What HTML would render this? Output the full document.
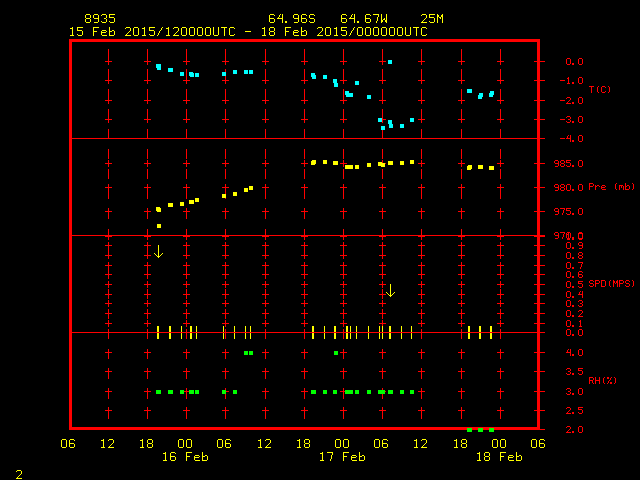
<!DOCTYPE html>
<html><head><meta charset="utf-8"><title>SFGRAM</title>
<style>
html,body{margin:0;padding:0;background:#000;width:640px;height:480px;overflow:hidden;font-family:"Liberation Mono",monospace;}
svg{display:block;}
</style></head><body>
<svg width="640" height="480" viewBox="0 0 640 480" shape-rendering="crispEdges">
<rect width="640" height="480" fill="#000"/>
<path fill="#ff0000" d="M69 39h471v3h-471zM69 42h3v96h-3zM537 42h3v19h-3zM108 49h1v12h-1zM147 49h1v12h-1zM186 49h1v12h-1zM225 49h1v12h-1zM265 49h1v12h-1zM304 49h1v12h-1zM343 49h1v12h-1zM382 49h1v12h-1zM421 49h1v12h-1zM461 49h1v12h-1zM500 49h1v12h-1zM567 58h3v1h-3zM579 58h3v1h-3zM566 59h1v5h-1zM570 59h1v5h-1zM578 59h1v5h-1zM582 59h1v5h-1zM105 61h7v1h-7zM144 61h7v1h-7zM183 61h7v1h-7zM222 61h7v1h-7zM262 61h7v1h-7zM301 61h7v1h-7zM340 61h7v1h-7zM379 61h7v1h-7zM418 61h7v1h-7zM458 61h7v1h-7zM497 61h7v1h-7zM534 61h11v1h-11zM108 62h1v3h-1zM147 62h1v3h-1zM186 62h1v3h-1zM225 62h1v3h-1zM265 62h1v3h-1zM304 62h1v3h-1zM343 62h1v3h-1zM382 62h1v3h-1zM421 62h1v3h-1zM461 62h1v3h-1zM500 62h1v3h-1zM537 62h3v18h-3zM572 63h2v2h-2zM567 64h3v1h-3zM579 64h3v1h-3zM108 69h1v11h-1zM147 69h1v11h-1zM186 69h1v11h-1zM225 69h1v3h-1zM265 69h1v11h-1zM304 69h1v11h-1zM343 69h1v11h-1zM382 69h1v11h-1zM421 69h1v11h-1zM461 69h1v11h-1zM500 69h1v11h-1zM225 76h1v4h-1zM568 77h1v1h-1zM579 77h3v1h-3zM567 78h2v1h-2zM578 78h1v5h-1zM582 78h1v5h-1zM568 79h1v4h-1zM105 80h7v1h-7zM144 80h7v1h-7zM183 80h7v1h-7zM222 80h7v1h-7zM262 80h7v1h-7zM301 80h7v1h-7zM340 80h7v1h-7zM379 80h7v1h-7zM418 80h7v1h-7zM458 80h7v1h-7zM497 80h7v1h-7zM534 80h11v1h-11zM560 80h5v1h-5zM108 81h1v3h-1zM147 81h1v3h-1zM186 81h1v3h-1zM225 81h1v3h-1zM265 81h1v3h-1zM304 81h1v3h-1zM343 81h1v3h-1zM382 81h1v3h-1zM421 81h1v3h-1zM461 81h1v3h-1zM500 81h1v3h-1zM537 81h3v19h-3zM572 82h2v2h-2zM567 83h3v1h-3zM579 83h3v1h-3zM589 86h5v1h-5zM598 86h1v1h-1zM602 86h3v1h-3zM608 86h1v1h-1zM591 87h1v6h-1zM597 87h1v5h-1zM601 87h1v5h-1zM605 87h1v1h-1zM609 87h1v5h-1zM108 89h1v11h-1zM147 89h1v11h-1zM186 89h1v11h-1zM225 89h1v11h-1zM265 89h1v11h-1zM304 89h1v11h-1zM343 89h1v11h-1zM382 89h1v11h-1zM421 89h1v11h-1zM461 89h1v11h-1zM500 89h1v11h-1zM605 91h1v1h-1zM598 92h1v1h-1zM602 92h3v1h-3zM608 92h1v1h-1zM567 97h3v1h-3zM579 97h3v1h-3zM566 98h1v1h-1zM570 98h1v2h-1zM578 98h1v5h-1zM582 98h1v5h-1zM105 100h7v1h-7zM144 100h7v1h-7zM183 100h7v1h-7zM222 100h7v1h-7zM262 100h7v1h-7zM301 100h7v1h-7zM340 100h7v1h-7zM379 100h7v1h-7zM418 100h7v1h-7zM458 100h7v1h-7zM497 100h7v1h-7zM534 100h11v1h-11zM560 100h5v1h-5zM569 100h1v1h-1zM108 101h1v3h-1zM147 101h1v3h-1zM186 101h1v3h-1zM225 101h1v3h-1zM265 101h1v3h-1zM304 101h1v3h-1zM343 101h1v3h-1zM382 101h1v3h-1zM421 101h1v3h-1zM461 101h1v3h-1zM500 101h1v3h-1zM537 101h3v18h-3zM568 101h1v1h-1zM567 102h1v1h-1zM572 102h2v2h-2zM566 103h5v1h-5zM579 103h3v1h-3zM108 109h1v10h-1zM147 109h1v10h-1zM186 109h1v10h-1zM225 109h1v10h-1zM265 109h1v10h-1zM304 109h1v10h-1zM343 109h1v10h-1zM382 109h1v10h-1zM421 109h1v10h-1zM461 109h1v10h-1zM500 109h1v10h-1zM567 116h3v1h-3zM579 116h3v1h-3zM566 117h1v1h-1zM570 117h1v2h-1zM578 117h1v5h-1zM582 117h1v5h-1zM105 119h7v1h-7zM144 119h7v1h-7zM183 119h7v1h-7zM222 119h7v1h-7zM262 119h7v1h-7zM301 119h7v1h-7zM340 119h7v1h-7zM382 119h4v1h-4zM418 119h7v1h-7zM458 119h7v1h-7zM497 119h7v1h-7zM534 119h11v1h-11zM560 119h5v1h-5zM568 119h2v1h-2zM108 120h1v3h-1zM147 120h1v3h-1zM186 120h1v3h-1zM225 120h1v3h-1zM265 120h1v3h-1zM304 120h1v3h-1zM343 120h1v3h-1zM382 120h1v3h-1zM421 120h1v3h-1zM461 120h1v3h-1zM500 120h1v3h-1zM537 120h3v18h-3zM570 120h1v2h-1zM566 121h1v1h-1zM572 121h2v2h-2zM567 122h3v1h-3zM579 122h3v1h-3zM108 129h1v9h-1zM147 129h1v9h-1zM186 129h1v9h-1zM225 129h1v9h-1zM265 129h1v9h-1zM304 129h1v9h-1zM343 129h1v9h-1zM421 129h1v9h-1zM461 129h1v9h-1zM500 129h1v9h-1zM382 130h1v8h-1zM568 135h1v1h-1zM570 135h1v3h-1zM579 135h3v1h-3zM567 136h1v2h-1zM578 136h1v5h-1zM582 136h1v5h-1zM69 138h476v1h-476zM560 138h5v1h-5zM566 138h5v1h-5zM69 139h3v96h-3zM537 139h3v24h-3zM570 139h1v3h-1zM572 140h2v2h-2zM579 141h3v1h-3zM108 149h1v10h-1zM147 149h1v10h-1zM186 149h1v10h-1zM225 149h1v10h-1zM265 149h1v10h-1zM304 149h1v10h-1zM343 149h1v10h-1zM382 149h1v10h-1zM421 149h1v10h-1zM461 149h1v10h-1zM500 149h1v10h-1zM108 160h1v3h-1zM147 160h1v3h-1zM186 160h1v3h-1zM225 160h1v3h-1zM265 160h1v3h-1zM304 160h1v3h-1zM343 160h1v3h-1zM382 160h1v3h-1zM421 160h1v3h-1zM461 160h1v3h-1zM500 160h1v3h-1zM555 160h3v1h-3zM561 160h3v1h-3zM566 160h5v1h-5zM579 160h3v1h-3zM554 161h1v2h-1zM558 161h1v2h-1zM560 161h1v2h-1zM564 161h1v2h-1zM566 161h1v1h-1zM578 161h1v5h-1zM582 161h1v5h-1zM566 162h4v1h-4zM105 163h7v1h-7zM144 163h7v1h-7zM183 163h7v1h-7zM222 163h7v1h-7zM262 163h7v1h-7zM301 163h7v1h-7zM340 163h7v1h-7zM385 163h1v1h-1zM418 163h7v1h-7zM458 163h7v1h-7zM497 163h7v1h-7zM534 163h11v1h-11zM555 163h4v1h-4zM561 163h3v1h-3zM570 163h1v3h-1zM108 164h1v3h-1zM147 164h1v3h-1zM186 164h1v3h-1zM225 164h1v3h-1zM265 164h1v3h-1zM304 164h1v3h-1zM343 164h1v3h-1zM421 164h1v3h-1zM461 164h1v3h-1zM500 164h1v3h-1zM537 164h3v23h-3zM558 164h1v2h-1zM560 164h1v2h-1zM564 164h1v2h-1zM566 165h1v1h-1zM572 165h2v2h-2zM555 166h3v1h-3zM561 166h3v1h-3zM567 166h3v1h-3zM579 166h3v1h-3zM108 169h1v10h-1zM147 169h1v10h-1zM186 169h1v10h-1zM225 169h1v10h-1zM265 169h1v10h-1zM304 169h1v10h-1zM343 169h1v10h-1zM382 169h1v10h-1zM421 169h1v10h-1zM461 169h1v10h-1zM500 169h1v10h-1zM589 183h4v1h-4zM616 183h1v1h-1zM625 183h1v3h-1zM632 183h1v1h-1zM108 184h1v3h-1zM147 184h1v3h-1zM186 184h1v3h-1zM225 184h1v3h-1zM265 184h1v3h-1zM304 184h1v3h-1zM343 184h1v3h-1zM382 184h1v3h-1zM421 184h1v3h-1zM461 184h1v3h-1zM500 184h1v3h-1zM555 184h3v1h-3zM561 184h3v1h-3zM567 184h3v1h-3zM579 184h3v1h-3zM589 184h1v2h-1zM593 184h1v2h-1zM615 184h1v5h-1zM633 184h1v5h-1zM554 185h1v2h-1zM558 185h1v2h-1zM560 185h1v2h-1zM564 185h1v2h-1zM566 185h1v5h-1zM570 185h1v5h-1zM578 185h1v5h-1zM582 185h1v5h-1zM595 185h1v1h-1zM597 185h2v1h-2zM602 185h3v1h-3zM619 185h4v1h-4zM627 185h2v1h-2zM589 186h4v1h-4zM595 186h2v1h-2zM599 186h1v1h-1zM601 186h1v1h-1zM605 186h1v1h-1zM619 186h1v4h-1zM621 186h1v2h-1zM623 186h1v4h-1zM625 186h2v1h-2zM629 186h1v3h-1zM105 187h7v1h-7zM144 187h7v1h-7zM183 187h7v1h-7zM222 187h7v1h-7zM262 187h7v1h-7zM301 187h7v1h-7zM340 187h7v1h-7zM379 187h7v1h-7zM418 187h7v1h-7zM458 187h7v1h-7zM497 187h7v1h-7zM534 187h11v1h-11zM555 187h4v1h-4zM561 187h3v1h-3zM589 187h1v3h-1zM595 187h1v3h-1zM601 187h4v1h-4zM625 187h1v2h-1zM108 188h1v11h-1zM147 188h1v11h-1zM186 188h1v11h-1zM225 188h1v6h-1zM265 188h1v11h-1zM304 188h1v11h-1zM343 188h1v11h-1zM382 188h1v11h-1zM421 188h1v11h-1zM461 188h1v11h-1zM500 188h1v11h-1zM537 188h3v23h-3zM558 188h1v2h-1zM560 188h1v2h-1zM564 188h1v2h-1zM601 188h1v1h-1zM572 189h2v2h-2zM602 189h4v1h-4zM616 189h1v1h-1zM625 189h4v1h-4zM632 189h1v1h-1zM555 190h3v1h-3zM561 190h3v1h-3zM567 190h3v1h-3zM579 190h3v1h-3zM225 198h1v1h-1zM108 208h1v3h-1zM147 208h1v3h-1zM186 208h1v3h-1zM225 208h1v3h-1zM265 208h1v3h-1zM304 208h1v3h-1zM343 208h1v3h-1zM382 208h1v3h-1zM421 208h1v3h-1zM461 208h1v3h-1zM500 208h1v3h-1zM555 208h3v1h-3zM560 208h5v1h-5zM566 208h5v1h-5zM579 208h3v1h-3zM554 209h1v2h-1zM558 209h1v2h-1zM564 209h1v1h-1zM566 209h1v1h-1zM578 209h1v5h-1zM582 209h1v5h-1zM563 210h1v3h-1zM566 210h4v1h-4zM105 211h7v1h-7zM144 211h7v1h-7zM183 211h7v1h-7zM222 211h7v1h-7zM262 211h7v1h-7zM301 211h7v1h-7zM340 211h7v1h-7zM379 211h7v1h-7zM418 211h7v1h-7zM458 211h7v1h-7zM497 211h7v1h-7zM534 211h11v1h-11zM555 211h4v1h-4zM570 211h1v3h-1zM108 212h1v7h-1zM147 212h1v7h-1zM186 212h1v7h-1zM225 212h1v7h-1zM265 212h1v7h-1zM304 212h1v7h-1zM343 212h1v7h-1zM382 212h1v7h-1zM421 212h1v7h-1zM461 212h1v7h-1zM500 212h1v7h-1zM537 212h3v23h-3zM558 212h1v2h-1zM562 213h1v2h-1zM566 213h1v1h-1zM572 213h2v2h-2zM555 214h3v1h-3zM567 214h3v1h-3zM579 214h3v1h-3zM108 229h1v6h-1zM147 229h1v6h-1zM186 229h1v6h-1zM225 229h1v6h-1zM265 229h1v6h-1zM304 229h1v6h-1zM343 229h1v6h-1zM382 229h1v6h-1zM421 229h1v6h-1zM461 229h1v6h-1zM500 229h1v6h-1zM555 232h3v1h-3zM560 232h5v1h-5zM567 232h3v1h-3zM579 232h3v1h-3zM554 233h1v2h-1zM558 233h1v2h-1zM564 233h1v1h-1zM566 233h1v1h-1zM568 233h1v1h-1zM570 233h1v5h-1zM578 233h5v1h-5zM563 234h1v3h-1zM566 234h3v1h-3zM578 234h1v4h-1zM582 234h1v4h-1zM69 235h476v1h-476zM555 235h4v1h-4zM566 235h1v3h-1zM568 235h1v3h-1zM69 236h3v96h-3zM105 236h7v1h-7zM144 236h7v1h-7zM183 236h7v1h-7zM222 236h7v1h-7zM262 236h7v1h-7zM301 236h7v1h-7zM340 236h7v1h-7zM379 236h7v1h-7zM418 236h7v1h-7zM458 236h7v1h-7zM497 236h7v1h-7zM534 236h11v1h-11zM558 236h1v2h-1zM108 237h1v3h-1zM147 237h1v3h-1zM186 237h1v3h-1zM225 237h1v3h-1zM265 237h1v3h-1zM304 237h1v3h-1zM343 237h1v3h-1zM382 237h1v3h-1zM421 237h1v3h-1zM461 237h1v3h-1zM500 237h1v3h-1zM537 237h3v8h-3zM562 237h1v2h-1zM572 237h2v3h-2zM555 238h3v1h-3zM567 238h3v2h-3zM578 238h5v1h-5zM579 239h3v1h-3zM108 242h1v3h-1zM147 242h1v3h-1zM186 242h1v3h-1zM225 242h1v3h-1zM265 242h1v3h-1zM304 242h1v3h-1zM343 242h1v3h-1zM382 242h1v3h-1zM421 242h1v3h-1zM461 242h1v3h-1zM500 242h1v3h-1zM567 242h3v1h-3zM579 242h3v1h-3zM566 243h1v5h-1zM570 243h1v5h-1zM578 243h1v2h-1zM582 243h1v2h-1zM105 245h7v1h-7zM144 245h7v1h-7zM183 245h7v1h-7zM222 245h7v1h-7zM262 245h7v1h-7zM301 245h7v1h-7zM340 245h7v1h-7zM379 245h7v1h-7zM418 245h7v1h-7zM458 245h7v1h-7zM497 245h7v1h-7zM534 245h11v1h-11zM579 245h4v1h-4zM108 246h1v9h-1zM147 246h1v9h-1zM186 246h1v9h-1zM225 246h1v9h-1zM265 246h1v9h-1zM304 246h1v9h-1zM343 246h1v9h-1zM382 246h1v9h-1zM421 246h1v9h-1zM461 246h1v9h-1zM500 246h1v9h-1zM537 246h3v9h-3zM582 246h1v2h-1zM572 247h2v2h-2zM567 248h3v1h-3zM579 248h3v1h-3zM567 252h3v1h-3zM579 252h3v1h-3zM566 253h1v5h-1zM570 253h1v5h-1zM578 253h1v2h-1zM582 253h1v2h-1zM105 255h7v1h-7zM144 255h7v1h-7zM183 255h7v1h-7zM222 255h7v1h-7zM262 255h7v1h-7zM301 255h7v1h-7zM340 255h7v1h-7zM379 255h7v1h-7zM418 255h7v1h-7zM458 255h7v1h-7zM497 255h7v1h-7zM534 255h11v1h-11zM579 255h3v1h-3zM108 256h1v3h-1zM147 256h1v3h-1zM186 256h1v3h-1zM225 256h1v3h-1zM265 256h1v3h-1zM304 256h1v3h-1zM343 256h1v3h-1zM382 256h1v3h-1zM421 256h1v3h-1zM461 256h1v3h-1zM500 256h1v3h-1zM537 256h3v9h-3zM578 256h1v2h-1zM582 256h1v2h-1zM572 257h2v2h-2zM567 258h3v1h-3zM579 258h3v1h-3zM108 262h1v3h-1zM147 262h1v3h-1zM186 262h1v3h-1zM225 262h1v3h-1zM265 262h1v3h-1zM304 262h1v3h-1zM343 262h1v3h-1zM382 262h1v3h-1zM421 262h1v3h-1zM461 262h1v3h-1zM500 262h1v3h-1zM567 262h3v1h-3zM578 262h5v1h-5zM566 263h1v5h-1zM570 263h1v5h-1zM582 263h1v1h-1zM581 264h1v3h-1zM105 265h7v1h-7zM144 265h7v1h-7zM183 265h7v1h-7zM222 265h7v1h-7zM262 265h7v1h-7zM301 265h7v1h-7zM340 265h7v1h-7zM379 265h7v1h-7zM418 265h7v1h-7zM458 265h7v1h-7zM497 265h7v1h-7zM534 265h11v1h-11zM108 266h1v8h-1zM147 266h1v8h-1zM186 266h1v8h-1zM225 266h1v8h-1zM265 266h1v8h-1zM304 266h1v8h-1zM343 266h1v8h-1zM382 266h1v8h-1zM421 266h1v8h-1zM461 266h1v8h-1zM500 266h1v8h-1zM537 266h3v8h-3zM572 267h2v2h-2zM580 267h1v2h-1zM567 268h3v1h-3zM567 271h3v1h-3zM579 271h3v1h-3zM566 272h1v5h-1zM570 272h1v5h-1zM578 272h1v2h-1zM582 272h1v1h-1zM105 274h7v1h-7zM144 274h7v1h-7zM183 274h7v1h-7zM222 274h7v1h-7zM262 274h7v1h-7zM301 274h7v1h-7zM340 274h7v1h-7zM379 274h7v1h-7zM418 274h7v1h-7zM458 274h7v1h-7zM497 274h7v1h-7zM534 274h11v1h-11zM578 274h4v1h-4zM108 275h1v4h-1zM147 275h1v4h-1zM186 275h1v4h-1zM225 275h1v4h-1zM265 275h1v4h-1zM304 275h1v4h-1zM343 275h1v4h-1zM382 275h1v4h-1zM421 275h1v4h-1zM461 275h1v4h-1zM500 275h1v4h-1zM537 275h3v9h-3zM578 275h1v2h-1zM582 275h1v2h-1zM572 276h2v2h-2zM567 277h3v1h-3zM579 277h3v1h-3zM590 280h3v1h-3zM595 280h4v1h-4zM601 280h4v1h-4zM610 280h1v1h-1zM613 280h1v1h-1zM617 280h1v1h-1zM619 280h4v1h-4zM626 280h3v1h-3zM632 280h1v1h-1zM108 281h1v3h-1zM147 281h1v3h-1zM186 281h1v3h-1zM225 281h1v3h-1zM265 281h1v3h-1zM304 281h1v3h-1zM343 281h1v3h-1zM382 281h1v3h-1zM421 281h1v3h-1zM461 281h1v3h-1zM500 281h1v3h-1zM567 281h3v1h-3zM578 281h5v1h-5zM589 281h1v2h-1zM593 281h1v1h-1zM595 281h1v2h-1zM599 281h1v2h-1zM601 281h1v5h-1zM605 281h1v5h-1zM609 281h1v5h-1zM613 281h2v2h-2zM616 281h2v2h-2zM619 281h1v2h-1zM623 281h1v2h-1zM625 281h1v2h-1zM629 281h1v1h-1zM633 281h1v5h-1zM566 282h1v5h-1zM570 282h1v5h-1zM578 282h1v1h-1zM578 283h4v1h-4zM590 283h3v1h-3zM595 283h4v1h-4zM613 283h1v4h-1zM615 283h1v1h-1zM617 283h1v4h-1zM619 283h4v1h-4zM626 283h3v1h-3zM105 284h7v1h-7zM144 284h7v1h-7zM183 284h7v1h-7zM222 284h7v1h-7zM262 284h7v1h-7zM301 284h7v1h-7zM340 284h7v1h-7zM379 284h7v1h-7zM418 284h7v1h-7zM458 284h7v1h-7zM497 284h7v1h-7zM534 284h11v1h-11zM582 284h1v3h-1zM593 284h1v2h-1zM595 284h1v3h-1zM619 284h1v3h-1zM629 284h1v2h-1zM108 285h1v3h-1zM147 285h1v3h-1zM186 285h1v3h-1zM225 285h1v3h-1zM265 285h1v3h-1zM304 285h1v3h-1zM343 285h1v3h-1zM382 285h1v3h-1zM421 285h1v3h-1zM461 285h1v3h-1zM500 285h1v3h-1zM537 285h3v9h-3zM589 285h1v1h-1zM625 285h1v1h-1zM572 286h2v2h-2zM578 286h1v1h-1zM590 286h3v1h-3zM601 286h4v1h-4zM610 286h1v1h-1zM626 286h3v1h-3zM632 286h1v1h-1zM567 287h3v1h-3zM579 287h3v1h-3zM108 289h1v5h-1zM147 289h1v5h-1zM186 289h1v5h-1zM225 289h1v5h-1zM265 289h1v5h-1zM304 289h1v5h-1zM343 289h1v5h-1zM382 289h1v5h-1zM421 289h1v5h-1zM461 289h1v5h-1zM500 289h1v5h-1zM567 291h3v1h-3zM580 291h1v1h-1zM582 291h1v3h-1zM566 292h1v5h-1zM570 292h1v5h-1zM579 292h1v2h-1zM105 294h7v1h-7zM144 294h7v1h-7zM183 294h7v1h-7zM222 294h7v1h-7zM262 294h7v1h-7zM301 294h7v1h-7zM340 294h7v1h-7zM379 294h7v1h-7zM418 294h7v1h-7zM458 294h7v1h-7zM497 294h7v1h-7zM534 294h11v1h-11zM578 294h5v1h-5zM108 295h1v4h-1zM147 295h1v4h-1zM186 295h1v4h-1zM225 295h1v4h-1zM265 295h1v4h-1zM304 295h1v4h-1zM343 295h1v4h-1zM382 295h1v4h-1zM421 295h1v4h-1zM461 295h1v4h-1zM500 295h1v4h-1zM537 295h3v8h-3zM582 295h1v3h-1zM572 296h2v2h-2zM567 297h3v1h-3zM108 300h1v3h-1zM147 300h1v3h-1zM186 300h1v3h-1zM225 300h1v3h-1zM265 300h1v3h-1zM304 300h1v3h-1zM343 300h1v3h-1zM382 300h1v3h-1zM421 300h1v3h-1zM461 300h1v3h-1zM500 300h1v3h-1zM567 300h3v1h-3zM579 300h3v1h-3zM566 301h1v5h-1zM570 301h1v5h-1zM578 301h1v1h-1zM582 301h1v2h-1zM105 303h7v1h-7zM144 303h7v1h-7zM183 303h7v1h-7zM222 303h7v1h-7zM262 303h7v1h-7zM301 303h7v1h-7zM340 303h7v1h-7zM379 303h7v1h-7zM418 303h7v1h-7zM458 303h7v1h-7zM497 303h7v1h-7zM534 303h11v1h-11zM580 303h2v1h-2zM108 304h1v3h-1zM147 304h1v3h-1zM186 304h1v3h-1zM225 304h1v3h-1zM265 304h1v3h-1zM304 304h1v3h-1zM343 304h1v3h-1zM382 304h1v3h-1zM421 304h1v3h-1zM461 304h1v3h-1zM500 304h1v3h-1zM537 304h3v9h-3zM582 304h1v2h-1zM572 305h2v2h-2zM578 305h1v1h-1zM567 306h3v1h-3zM579 306h3v1h-3zM108 309h1v4h-1zM147 309h1v4h-1zM186 309h1v4h-1zM225 309h1v4h-1zM265 309h1v4h-1zM304 309h1v4h-1zM343 309h1v4h-1zM382 309h1v4h-1zM421 309h1v4h-1zM461 309h1v4h-1zM500 309h1v4h-1zM567 310h3v1h-3zM579 310h3v1h-3zM566 311h1v5h-1zM570 311h1v5h-1zM578 311h1v1h-1zM582 311h1v2h-1zM105 313h7v1h-7zM144 313h7v1h-7zM183 313h7v1h-7zM222 313h7v1h-7zM262 313h7v1h-7zM301 313h7v1h-7zM340 313h7v1h-7zM379 313h7v1h-7zM418 313h7v1h-7zM458 313h7v1h-7zM497 313h7v1h-7zM534 313h11v1h-11zM581 313h1v1h-1zM108 314h1v5h-1zM147 314h1v5h-1zM186 314h1v5h-1zM225 314h1v5h-1zM265 314h1v5h-1zM304 314h1v5h-1zM343 314h1v5h-1zM382 314h1v5h-1zM421 314h1v5h-1zM461 314h1v5h-1zM500 314h1v5h-1zM537 314h3v9h-3zM580 314h1v1h-1zM572 315h2v2h-2zM579 315h1v1h-1zM567 316h3v1h-3zM578 316h5v1h-5zM108 320h1v3h-1zM147 320h1v3h-1zM186 320h1v3h-1zM225 320h1v3h-1zM265 320h1v3h-1zM304 320h1v3h-1zM343 320h1v3h-1zM382 320h1v3h-1zM421 320h1v3h-1zM461 320h1v3h-1zM500 320h1v3h-1zM567 320h3v1h-3zM580 320h1v1h-1zM566 321h1v5h-1zM570 321h1v5h-1zM579 321h2v1h-2zM580 322h1v4h-1zM105 323h7v1h-7zM144 323h7v1h-7zM183 323h7v1h-7zM222 323h7v1h-7zM262 323h7v1h-7zM301 323h7v1h-7zM340 323h7v1h-7zM379 323h7v1h-7zM418 323h7v1h-7zM458 323h7v1h-7zM497 323h7v1h-7zM534 323h11v1h-11zM108 324h1v3h-1zM147 324h1v3h-1zM186 324h1v3h-1zM225 324h1v3h-1zM265 324h1v3h-1zM304 324h1v3h-1zM343 324h1v3h-1zM382 324h1v2h-1zM421 324h1v3h-1zM461 324h1v3h-1zM500 324h1v3h-1zM537 324h3v8h-3zM572 325h2v2h-2zM567 326h3v1h-3zM579 326h3v1h-3zM108 329h1v3h-1zM147 329h1v3h-1zM186 329h1v3h-1zM225 329h1v3h-1zM265 329h1v3h-1zM304 329h1v3h-1zM343 329h1v3h-1zM421 329h1v3h-1zM461 329h1v3h-1zM500 329h1v3h-1zM567 329h3v1h-3zM579 329h3v1h-3zM566 330h1v5h-1zM570 330h1v5h-1zM578 330h1v5h-1zM582 330h1v5h-1zM69 332h476v1h-476zM69 333h3v94h-3zM108 333h1v6h-1zM147 333h1v6h-1zM186 333h1v6h-1zM225 333h1v6h-1zM265 333h1v6h-1zM304 333h1v6h-1zM343 333h1v6h-1zM421 333h1v6h-1zM461 333h1v6h-1zM500 333h1v6h-1zM537 333h3v19h-3zM572 334h2v2h-2zM567 335h3v1h-3zM579 335h3v1h-3zM108 349h1v3h-1zM147 349h1v3h-1zM186 349h1v3h-1zM225 349h1v3h-1zM265 349h1v3h-1zM304 349h1v3h-1zM343 349h1v3h-1zM382 349h1v3h-1zM421 349h1v3h-1zM461 349h1v3h-1zM500 349h1v3h-1zM568 349h1v1h-1zM570 349h1v3h-1zM579 349h3v1h-3zM567 350h1v2h-1zM578 350h1v5h-1zM582 350h1v5h-1zM105 352h7v1h-7zM144 352h7v1h-7zM183 352h7v1h-7zM222 352h7v1h-7zM262 352h7v1h-7zM301 352h7v1h-7zM340 352h7v1h-7zM379 352h7v1h-7zM418 352h7v1h-7zM458 352h7v1h-7zM497 352h7v1h-7zM534 352h11v1h-11zM566 352h5v1h-5zM108 353h1v6h-1zM147 353h1v6h-1zM186 353h1v6h-1zM225 353h1v6h-1zM265 353h1v6h-1zM304 353h1v6h-1zM343 353h1v6h-1zM382 353h1v6h-1zM421 353h1v6h-1zM461 353h1v6h-1zM500 353h1v6h-1zM537 353h3v18h-3zM570 353h1v3h-1zM572 354h2v2h-2zM579 355h3v1h-3zM108 368h1v3h-1zM147 368h1v3h-1zM186 368h1v3h-1zM225 368h1v3h-1zM265 368h1v3h-1zM304 368h1v3h-1zM343 368h1v3h-1zM382 368h1v3h-1zM421 368h1v3h-1zM461 368h1v3h-1zM500 368h1v3h-1zM567 368h3v1h-3zM578 368h5v1h-5zM566 369h1v1h-1zM570 369h1v2h-1zM578 369h1v1h-1zM578 370h4v1h-4zM105 371h7v1h-7zM144 371h7v1h-7zM183 371h7v1h-7zM222 371h7v1h-7zM262 371h7v1h-7zM301 371h7v1h-7zM340 371h7v1h-7zM379 371h7v1h-7zM418 371h7v1h-7zM458 371h7v1h-7zM497 371h7v1h-7zM534 371h11v1h-11zM568 371h2v1h-2zM582 371h1v3h-1zM108 372h1v7h-1zM147 372h1v7h-1zM186 372h1v7h-1zM225 372h1v7h-1zM265 372h1v7h-1zM304 372h1v7h-1zM343 372h1v7h-1zM382 372h1v7h-1zM421 372h1v7h-1zM461 372h1v7h-1zM500 372h1v7h-1zM537 372h3v19h-3zM570 372h1v2h-1zM566 373h1v1h-1zM572 373h2v2h-2zM578 373h1v1h-1zM567 374h3v1h-3zM579 374h3v1h-3zM589 377h4v1h-4zM595 377h1v3h-1zM599 377h1v3h-1zM604 377h1v1h-1zM607 377h2v2h-2zM611 377h1v1h-1zM614 377h1v1h-1zM589 378h1v2h-1zM593 378h1v2h-1zM603 378h1v5h-1zM610 378h1v2h-1zM615 378h1v5h-1zM589 380h4v1h-4zM595 380h5v1h-5zM609 380h1v1h-1zM589 381h1v3h-1zM592 381h1v2h-1zM595 381h1v3h-1zM599 381h1v3h-1zM608 381h1v2h-1zM610 382h2v2h-2zM593 383h1v1h-1zM604 383h1v1h-1zM607 383h1v1h-1zM614 383h1v1h-1zM108 388h1v3h-1zM147 388h1v3h-1zM186 388h1v3h-1zM225 388h1v2h-1zM265 388h1v3h-1zM304 388h1v3h-1zM343 388h1v3h-1zM382 388h1v2h-1zM421 388h1v3h-1zM461 388h1v3h-1zM500 388h1v3h-1zM567 388h3v1h-3zM579 388h3v1h-3zM566 389h1v1h-1zM570 389h1v2h-1zM578 389h1v5h-1zM582 389h1v5h-1zM105 391h7v1h-7zM144 391h7v1h-7zM184 391h5v1h-5zM226 391h3v1h-3zM262 391h7v1h-7zM301 391h7v1h-7zM340 391h5v1h-5zM385 391h1v1h-1zM418 391h7v1h-7zM458 391h7v1h-7zM497 391h7v1h-7zM534 391h11v1h-11zM568 391h2v1h-2zM108 392h1v7h-1zM147 392h1v7h-1zM186 392h1v7h-1zM265 392h1v7h-1zM304 392h1v7h-1zM343 392h1v7h-1zM421 392h1v7h-1zM461 392h1v7h-1zM500 392h1v7h-1zM537 392h3v18h-3zM570 392h1v2h-1zM566 393h1v1h-1zM572 393h2v2h-2zM225 394h1v5h-1zM382 394h1v5h-1zM567 394h3v1h-3zM579 394h3v1h-3zM108 407h1v3h-1zM147 407h1v3h-1zM186 407h1v3h-1zM225 407h1v3h-1zM265 407h1v3h-1zM304 407h1v3h-1zM343 407h1v3h-1zM382 407h1v3h-1zM421 407h1v3h-1zM461 407h1v3h-1zM500 407h1v3h-1zM567 407h3v1h-3zM578 407h5v1h-5zM566 408h1v1h-1zM570 408h1v2h-1zM578 408h1v1h-1zM578 409h4v1h-4zM105 410h7v1h-7zM144 410h7v1h-7zM183 410h7v1h-7zM222 410h7v1h-7zM262 410h7v1h-7zM301 410h7v1h-7zM340 410h7v1h-7zM379 410h7v1h-7zM418 410h7v1h-7zM458 410h7v1h-7zM497 410h7v1h-7zM534 410h11v1h-11zM569 410h1v1h-1zM582 410h1v3h-1zM108 411h1v8h-1zM147 411h1v8h-1zM186 411h1v8h-1zM225 411h1v8h-1zM265 411h1v8h-1zM304 411h1v8h-1zM343 411h1v8h-1zM382 411h1v8h-1zM421 411h1v8h-1zM461 411h1v8h-1zM500 411h1v8h-1zM537 411h3v16h-3zM568 411h1v1h-1zM567 412h1v1h-1zM572 412h2v2h-2zM578 412h1v1h-1zM566 413h5v1h-5zM579 413h3v1h-3zM567 426h3v1h-3zM579 426h3v1h-3zM69 427h471v1h-471zM566 427h1v1h-1zM570 427h1v2h-1zM578 427h1v5h-1zM582 427h1v5h-1zM69 428h398v2h-398zM472 428h6v2h-6zM483 428h6v2h-6zM494 428h46v1h-46zM494 429h51v1h-51zM569 429h1v1h-1zM568 430h1v1h-1zM567 431h1v1h-1zM572 431h2v2h-2zM566 432h5v1h-5zM579 432h3v1h-3z"/>
<path fill="#ffff00" d="M86 14h4v1h-4zM94 14h4v1h-4zM102 14h4v1h-4zM109 14h6v1h-6zM270 14h4v1h-4zM280 14h1v1h-1zM282 14h1v4h-1zM294 14h4v1h-4zM302 14h4v1h-4zM310 14h4v1h-4zM342 14h4v1h-4zM352 14h1v1h-1zM354 14h1v4h-1zM366 14h4v1h-4zM373 14h6v1h-6zM381 14h1v6h-1zM386 14h1v6h-1zM422 14h4v1h-4zM429 14h6v1h-6zM437 14h1v1h-1zM442 14h1v1h-1zM85 15h1v3h-1zM90 15h1v3h-1zM93 15h1v3h-1zM98 15h1v3h-1zM101 15h1v1h-1zM106 15h1v3h-1zM109 15h1v2h-1zM269 15h1v3h-1zM274 15h1v1h-1zM279 15h1v2h-1zM293 15h1v3h-1zM298 15h1v3h-1zM301 15h1v3h-1zM306 15h1v1h-1zM309 15h1v3h-1zM314 15h1v1h-1zM341 15h1v3h-1zM346 15h1v1h-1zM351 15h1v2h-1zM365 15h1v3h-1zM370 15h1v1h-1zM378 15h1v2h-1zM421 15h1v1h-1zM426 15h1v3h-1zM429 15h1v2h-1zM437 15h2v2h-2zM441 15h2v2h-2zM109 17h5v1h-5zM278 17h1v1h-1zM350 17h1v1h-1zM377 17h1v4h-1zM429 17h5v1h-5zM437 17h1v6h-1zM439 17h2v1h-2zM442 17h1v6h-1zM86 18h4v1h-4zM94 18h5v1h-5zM104 18h2v1h-2zM114 18h1v4h-1zM269 18h5v1h-5zM277 18h6v1h-6zM294 18h5v1h-5zM301 18h5v1h-5zM310 18h4v1h-4zM341 18h5v1h-5zM349 18h6v1h-6zM365 18h5v1h-5zM384 18h1v1h-1zM425 18h1v1h-1zM434 18h1v4h-1zM440 18h1v1h-1zM85 19h1v3h-1zM90 19h1v3h-1zM98 19h1v3h-1zM106 19h1v3h-1zM269 19h1v3h-1zM274 19h1v3h-1zM282 19h1v4h-1zM298 19h1v3h-1zM301 19h1v3h-1zM306 19h1v3h-1zM314 19h1v3h-1zM341 19h1v3h-1zM346 19h1v3h-1zM354 19h1v4h-1zM365 19h1v3h-1zM370 19h1v3h-1zM383 19h2v1h-2zM424 19h1v1h-1zM381 20h2v2h-2zM385 20h2v2h-2zM423 20h1v1h-1zM101 21h1v1h-1zM109 21h1v1h-1zM285 21h2v2h-2zM309 21h1v1h-1zM357 21h2v2h-2zM376 21h1v2h-1zM422 21h1v1h-1zM429 21h1v1h-1zM86 22h4v1h-4zM94 22h4v1h-4zM102 22h4v1h-4zM110 22h4v1h-4zM270 22h4v1h-4zM294 22h4v1h-4zM302 22h4v1h-4zM310 22h4v1h-4zM342 22h4v1h-4zM366 22h4v1h-4zM381 22h1v1h-1zM386 22h1v1h-1zM421 22h6v1h-6zM430 22h4v1h-4zM72 27h1v1h-1zM77 27h6v1h-6zM93 27h6v1h-6zM109 27h1v4h-1zM126 27h4v1h-4zM134 27h4v1h-4zM144 27h1v1h-1zM149 27h6v1h-6zM162 27h1v1h-1zM168 27h1v1h-1zM174 27h4v1h-4zM182 27h4v1h-4zM190 27h4v1h-4zM198 27h4v1h-4zM206 27h4v1h-4zM213 27h1v8h-1zM218 27h1v8h-1zM221 27h6v1h-6zM230 27h4v1h-4zM264 27h1v1h-1zM270 27h4v1h-4zM285 27h6v1h-6zM301 27h1v4h-1zM318 27h4v1h-4zM326 27h4v1h-4zM336 27h1v1h-1zM341 27h6v1h-6zM354 27h1v1h-1zM358 27h4v1h-4zM366 27h4v1h-4zM374 27h4v1h-4zM382 27h4v1h-4zM390 27h4v1h-4zM398 27h4v1h-4zM405 27h1v8h-1zM410 27h1v8h-1zM413 27h6v1h-6zM422 27h4v1h-4zM70 28h3v1h-3zM77 28h1v2h-1zM93 28h1v3h-1zM125 28h1v1h-1zM130 28h1v3h-1zM133 28h1v7h-1zM138 28h1v7h-1zM142 28h3v1h-3zM149 28h1v2h-1zM161 28h1v2h-1zM166 28h3v1h-3zM173 28h1v1h-1zM178 28h1v3h-1zM181 28h1v7h-1zM186 28h1v7h-1zM189 28h1v7h-1zM194 28h1v7h-1zM197 28h1v7h-1zM202 28h1v7h-1zM205 28h1v7h-1zM210 28h1v7h-1zM224 28h1v8h-1zM229 28h1v7h-1zM234 28h1v1h-1zM262 28h3v1h-3zM269 28h1v3h-1zM274 28h1v3h-1zM285 28h1v3h-1zM317 28h1v1h-1zM322 28h1v3h-1zM325 28h1v7h-1zM330 28h1v7h-1zM334 28h3v1h-3zM341 28h1v2h-1zM353 28h1v2h-1zM357 28h1v7h-1zM362 28h1v7h-1zM365 28h1v7h-1zM370 28h1v7h-1zM373 28h1v7h-1zM378 28h1v7h-1zM381 28h1v7h-1zM386 28h1v7h-1zM389 28h1v7h-1zM394 28h1v7h-1zM397 28h1v7h-1zM402 28h1v7h-1zM416 28h1v8h-1zM421 28h1v7h-1zM426 28h1v1h-1zM72 29h1v6h-1zM144 29h1v6h-1zM168 29h1v6h-1zM264 29h1v6h-1zM336 29h1v6h-1zM77 30h5v1h-5zM102 30h4v1h-4zM112 30h2v1h-2zM149 30h5v1h-5zM160 30h1v1h-1zM294 30h4v1h-4zM304 30h2v1h-2zM341 30h5v1h-5zM352 30h1v1h-1zM82 31h1v4h-1zM93 31h4v1h-4zM101 31h1v1h-1zM106 31h1v1h-1zM109 31h3v1h-3zM114 31h1v4h-1zM129 31h1v1h-1zM154 31h1v4h-1zM159 31h1v2h-1zM177 31h1v1h-1zM245 31h6v1h-6zM270 31h4v1h-4zM285 31h4v1h-4zM293 31h1v1h-1zM298 31h1v1h-1zM301 31h3v1h-3zM306 31h1v4h-1zM321 31h1v1h-1zM346 31h1v4h-1zM351 31h1v2h-1zM93 32h1v4h-1zM101 32h5v1h-5zM109 32h1v3h-1zM128 32h1v1h-1zM176 32h1v1h-1zM269 32h1v3h-1zM274 32h1v3h-1zM285 32h1v4h-1zM293 32h5v1h-5zM301 32h1v3h-1zM320 32h1v1h-1zM101 33h1v2h-1zM127 33h1v1h-1zM158 33h1v2h-1zM175 33h1v1h-1zM293 33h1v2h-1zM319 33h1v1h-1zM350 33h1v2h-1zM77 34h1v1h-1zM126 34h1v1h-1zM149 34h1v1h-1zM174 34h1v1h-1zM234 34h1v1h-1zM318 34h1v1h-1zM341 34h1v1h-1zM426 34h1v1h-1zM70 35h4v1h-4zM78 35h4v1h-4zM102 35h5v1h-5zM109 35h5v1h-5zM125 35h6v1h-6zM134 35h4v1h-4zM142 35h4v1h-4zM150 35h4v1h-4zM157 35h1v1h-1zM166 35h4v1h-4zM173 35h6v1h-6zM182 35h4v1h-4zM190 35h4v1h-4zM198 35h4v1h-4zM206 35h4v1h-4zM214 35h4v1h-4zM230 35h4v1h-4zM262 35h4v1h-4zM270 35h4v1h-4zM294 35h5v1h-5zM301 35h5v1h-5zM317 35h6v1h-6zM326 35h4v1h-4zM334 35h4v1h-4zM342 35h4v1h-4zM349 35h1v1h-1zM358 35h4v1h-4zM366 35h4v1h-4zM374 35h4v1h-4zM382 35h4v1h-4zM390 35h4v1h-4zM398 35h4v1h-4zM406 35h4v1h-4zM422 35h4v1h-4zM312 160h4v1h-4zM323 160h4v4h-4zM410 160h4v4h-4zM311 161h5v3h-5zM333 161h5v4h-5zM388 161h5v4h-5zM400 161h4v4h-4zM378 162h4v1h-4zM367 163h4v4h-4zM378 163h7v3h-7zM311 164h4v1h-4zM345 165h8v4h-8zM355 165h4v4h-4zM468 165h4v1h-4zM478 165h5v4h-5zM381 166h4v1h-4zM467 166h5v3h-5zM489 166h5v4h-5zM467 169h4v1h-4zM249 186h4v4h-4zM244 188h4v4h-4zM233 192h4v4h-4zM222 194h4v4h-4zM195 198h4v4h-4zM189 200h5v4h-5zM180 202h4v4h-4zM168 203h5v4h-5zM156 207h4v1h-4zM156 208h5v3h-5zM157 211h4v1h-4zM157 224h4v4h-4zM158 245h1v11h-1zM154 253h1v1h-1zM162 253h1v1h-1zM155 254h1v1h-1zM161 254h1v1h-1zM156 255h1v1h-1zM160 255h1v1h-1zM157 256h3v1h-3zM158 257h1v1h-1zM390 284h1v11h-1zM386 292h1v1h-1zM394 292h1v1h-1zM387 293h1v1h-1zM393 293h1v1h-1zM388 294h1v1h-1zM392 294h1v1h-1zM389 295h3v1h-3zM390 296h1v1h-1zM157 326h2v6h-2zM169 326h2v6h-2zM181 326h1v6h-1zM190 326h2v6h-2zM196 326h1v6h-1zM223 326h1v6h-1zM234 326h1v6h-1zM245 326h1v6h-1zM250 326h1v6h-1zM312 326h2v6h-2zM324 326h1v6h-1zM334 326h2v6h-2zM346 326h2v6h-2zM350 326h1v6h-1zM356 326h1v6h-1zM368 326h1v6h-1zM379 326h1v6h-1zM382 326h1v6h-1zM389 326h2v6h-2zM401 326h1v6h-1zM411 326h1v6h-1zM468 326h2v6h-2zM479 326h2v6h-2zM490 326h2v6h-2zM157 333h2v6h-2zM169 333h2v6h-2zM181 333h1v6h-1zM190 333h2v6h-2zM196 333h1v6h-1zM223 333h1v6h-1zM234 333h1v6h-1zM245 333h1v6h-1zM250 333h1v6h-1zM312 333h2v6h-2zM324 333h1v6h-1zM334 333h2v6h-2zM346 333h2v6h-2zM350 333h1v6h-1zM356 333h1v6h-1zM368 333h1v6h-1zM379 333h1v6h-1zM382 333h1v6h-1zM389 333h2v6h-2zM401 333h1v6h-1zM411 333h1v6h-1zM468 333h2v6h-2zM479 333h2v6h-2zM490 333h2v6h-2zM62 439h4v1h-4zM70 439h4v1h-4zM103 439h1v1h-1zM109 439h4v1h-4zM142 439h1v1h-1zM148 439h4v1h-4zM179 439h4v1h-4zM187 439h4v1h-4zM218 439h4v1h-4zM226 439h4v1h-4zM260 439h1v1h-1zM266 439h4v1h-4zM299 439h1v1h-1zM305 439h4v1h-4zM336 439h4v1h-4zM344 439h4v1h-4zM375 439h4v1h-4zM383 439h4v1h-4zM416 439h1v1h-1zM422 439h4v1h-4zM456 439h1v1h-1zM462 439h4v1h-4zM493 439h4v1h-4zM501 439h4v1h-4zM532 439h4v1h-4zM540 439h4v1h-4zM61 440h1v7h-1zM66 440h1v7h-1zM69 440h1v3h-1zM74 440h1v1h-1zM101 440h3v1h-3zM108 440h1v1h-1zM113 440h1v3h-1zM140 440h3v1h-3zM147 440h1v3h-1zM152 440h1v3h-1zM178 440h1v7h-1zM183 440h1v7h-1zM186 440h1v7h-1zM191 440h1v7h-1zM217 440h1v7h-1zM222 440h1v7h-1zM225 440h1v3h-1zM230 440h1v1h-1zM258 440h3v1h-3zM265 440h1v1h-1zM270 440h1v3h-1zM297 440h3v1h-3zM304 440h1v3h-1zM309 440h1v3h-1zM335 440h1v7h-1zM340 440h1v7h-1zM343 440h1v7h-1zM348 440h1v7h-1zM374 440h1v7h-1zM379 440h1v7h-1zM382 440h1v3h-1zM387 440h1v1h-1zM414 440h3v1h-3zM421 440h1v1h-1zM426 440h1v3h-1zM454 440h3v1h-3zM461 440h1v3h-1zM466 440h1v3h-1zM492 440h1v7h-1zM497 440h1v7h-1zM500 440h1v7h-1zM505 440h1v7h-1zM531 440h1v7h-1zM536 440h1v7h-1zM539 440h1v3h-1zM544 440h1v1h-1zM103 441h1v6h-1zM142 441h1v6h-1zM260 441h1v6h-1zM299 441h1v6h-1zM416 441h1v6h-1zM456 441h1v6h-1zM69 443h5v1h-5zM112 443h1v1h-1zM148 443h4v1h-4zM225 443h5v1h-5zM269 443h1v1h-1zM305 443h4v1h-4zM382 443h5v1h-5zM425 443h1v1h-1zM462 443h4v1h-4zM539 443h5v1h-5zM69 444h1v3h-1zM74 444h1v3h-1zM111 444h1v1h-1zM147 444h1v3h-1zM152 444h1v3h-1zM225 444h1v3h-1zM230 444h1v3h-1zM268 444h1v1h-1zM304 444h1v3h-1zM309 444h1v3h-1zM382 444h1v3h-1zM387 444h1v3h-1zM424 444h1v1h-1zM461 444h1v3h-1zM466 444h1v3h-1zM539 444h1v3h-1zM544 444h1v3h-1zM110 445h1v1h-1zM267 445h1v1h-1zM423 445h1v1h-1zM109 446h1v1h-1zM266 446h1v1h-1zM422 446h1v1h-1zM62 447h4v1h-4zM70 447h4v1h-4zM101 447h4v1h-4zM108 447h6v1h-6zM140 447h4v1h-4zM148 447h4v1h-4zM179 447h4v1h-4zM187 447h4v1h-4zM218 447h4v1h-4zM226 447h4v1h-4zM258 447h4v1h-4zM265 447h6v1h-6zM297 447h4v1h-4zM305 447h4v1h-4zM336 447h4v1h-4zM344 447h4v1h-4zM375 447h4v1h-4zM383 447h4v1h-4zM414 447h4v1h-4zM421 447h6v1h-6zM454 447h4v1h-4zM462 447h4v1h-4zM493 447h4v1h-4zM501 447h4v1h-4zM532 447h4v1h-4zM540 447h4v1h-4zM165 452h1v1h-1zM171 452h4v1h-4zM186 452h6v1h-6zM202 452h1v4h-1zM322 452h1v1h-1zM327 452h6v1h-6zM343 452h6v1h-6zM359 452h1v4h-1zM479 452h1v1h-1zM485 452h4v1h-4zM500 452h6v1h-6zM516 452h1v4h-1zM163 453h3v1h-3zM170 453h1v3h-1zM175 453h1v1h-1zM186 453h1v3h-1zM320 453h3v1h-3zM332 453h1v2h-1zM343 453h1v3h-1zM477 453h3v1h-3zM484 453h1v3h-1zM489 453h1v3h-1zM500 453h1v3h-1zM165 454h1v6h-1zM322 454h1v6h-1zM479 454h1v6h-1zM195 455h4v1h-4zM205 455h2v1h-2zM331 455h1v4h-1zM352 455h4v1h-4zM362 455h2v1h-2zM509 455h4v1h-4zM519 455h2v1h-2zM170 456h5v1h-5zM186 456h4v1h-4zM194 456h1v1h-1zM199 456h1v1h-1zM202 456h3v1h-3zM207 456h1v4h-1zM343 456h4v1h-4zM351 456h1v1h-1zM356 456h1v1h-1zM359 456h3v1h-3zM364 456h1v4h-1zM485 456h4v1h-4zM500 456h4v1h-4zM508 456h1v1h-1zM513 456h1v1h-1zM516 456h3v1h-3zM521 456h1v4h-1zM170 457h1v3h-1zM175 457h1v3h-1zM186 457h1v4h-1zM194 457h5v1h-5zM202 457h1v3h-1zM343 457h1v4h-1zM351 457h5v1h-5zM359 457h1v3h-1zM484 457h1v3h-1zM489 457h1v3h-1zM500 457h1v4h-1zM508 457h5v1h-5zM516 457h1v3h-1zM194 458h1v2h-1zM351 458h1v2h-1zM508 458h1v2h-1zM330 459h1v2h-1zM163 460h4v1h-4zM171 460h4v1h-4zM195 460h5v1h-5zM202 460h5v1h-5zM320 460h4v1h-4zM352 460h5v1h-5zM359 460h5v1h-5zM477 460h4v1h-4zM485 460h4v1h-4zM509 460h5v1h-5zM516 460h5v1h-5zM17 470h4v1h-4zM16 471h1v1h-1zM21 471h1v3h-1zM20 474h1v1h-1zM19 475h1v1h-1zM18 476h1v1h-1zM17 477h1v1h-1zM16 478h6v1h-6z"/>
<path fill="#00ffff" d="M388 60h4v4h-4zM156 64h5v4h-5zM157 68h4v2h-4zM168 68h5v4h-5zM233 70h4v4h-4zM244 70h4v4h-4zM249 70h4v4h-4zM180 72h4v4h-4zM189 72h4v1h-4zM222 72h4v4h-4zM189 73h5v3h-5zM195 73h4v4h-4zM311 73h4v2h-4zM311 75h5v2h-5zM323 75h4v4h-4zM190 76h4v1h-4zM312 77h4v2h-4zM333 79h4v4h-4zM355 81h4v4h-4zM334 83h4v4h-4zM467 89h5v4h-5zM345 91h4v2h-4zM490 91h4v2h-4zM345 93h8v2h-8zM479 93h4v2h-4zM489 93h5v2h-5zM346 95h7v2h-7zM367 95h4v4h-4zM478 95h5v2h-5zM489 95h4v2h-4zM478 97h4v2h-4zM378 118h4v4h-4zM410 118h4v4h-4zM388 120h4v4h-4zM389 124h4v4h-4zM400 124h4v4h-4zM381 126h4v4h-4z"/>
<path fill="#00ff00" d="M244 351h4v4h-4zM249 351h4v4h-4zM334 351h4v4h-4zM156 390h5v4h-5zM168 390h5v4h-5zM180 390h4v4h-4zM189 390h5v4h-5zM195 390h4v4h-4zM222 390h4v4h-4zM233 390h4v4h-4zM311 390h5v4h-5zM323 390h4v4h-4zM333 390h4v4h-4zM345 390h8v4h-8zM355 390h4v4h-4zM367 390h4v4h-4zM378 390h7v4h-7zM388 390h5v4h-5zM400 390h4v4h-4zM410 390h4v4h-4zM467 428h5v4h-5zM478 428h5v4h-5zM489 428h5v4h-5z"/>
</svg>
</body></html>
